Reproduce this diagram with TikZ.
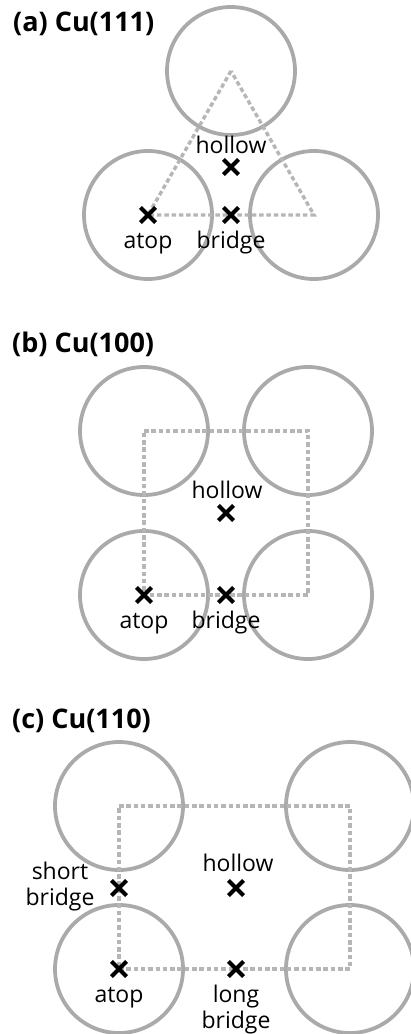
\documentclass[tikz,border=0pt]{standalone}
\usepackage{fontspec}
\setmainfont{Open Sans}
\usetikzlibrary{shapes.misc}
\definecolor{atomgray}{RGB}{170,170,170}
\definecolor{linegray}{RGB}{182,182,182}
\tikzset{
  atom/.style={draw=atomgray, line width=3.8pt},
  lattice/.style={draw=linegray, line width=3.4pt, dash pattern=on 4.5pt off 2.8pt},
  site/.style={cross out, draw=black, line width=4.2pt, minimum size=11pt, inner sep=0pt},
  lbl/.style={font=\fontsize{23}{26}\selectfont, inner sep=0pt, anchor=base, align=center},
  panel/.style={font=\fontsize{27}{30}\selectfont\bfseries, inner sep=0pt, anchor=base west},
}
\begin{document}
\begin{tikzpicture}[x=1pt,y=-1pt]
    \useasboundingbox (0,0) rectangle (411,1034);

    % (a) Cu(111)
    \node[panel] (ta) at (13,31) {(a) Cu(111)};
    \coordinate (a1) at (231,71);
    \coordinate (a2) at (148,215);
    \coordinate (a3) at (314,215);
    \draw[atom] (a1) circle (64pt);
    \draw[atom] (a2) circle (64pt);
    \draw[atom] (a3) circle (64pt);
    \draw[lattice] (a1) -- (a2) -- (a3) -- cycle;
    \node[site] (aTop) at (a2) {};
    \node[site] (aBri) at (231,215) {};
    \node[site] (aHol) at (231,167) {};
    \node[lbl] (aHolT) at (231,153) {hollow};
    \node[lbl] (aTopT) at (148,248) {atop};
    \node[lbl] (aBriT) at (231,248) {bridge};

    % (b) Cu(100)
    \node[panel] (tb) at (12,352) {(b) Cu(100)};
    \coordinate (b1) at (144,431);
    \coordinate (b2) at (308,431);
    \coordinate (b3) at (308,595);
    \coordinate (b4) at (144,595);
    \draw[atom] (b1) circle (64pt);
    \draw[atom] (b2) circle (64pt);
    \draw[atom] (b3) circle (64pt);
    \draw[atom] (b4) circle (64pt);
    \draw[lattice] (b1) -- (b2) -- (b3) -- (b4) -- cycle;
    \node[site] (bTop) at (b4) {};
    \node[site] (bBri) at (226,595) {};
    \node[site] (bHol) at (226,513) {};
    \node[lbl] (bHolT) at (227,498) {hollow};
    \node[lbl] (bTopT) at (144,628) {atop};
    \node[lbl] (bBriT) at (226,628) {bridge};

    % (c) Cu(110)
    \node[panel] (tc) at (12,728) {(c) Cu(110)};
    \coordinate (c1) at (119,806);
    \coordinate (c2) at (350,806);
    \coordinate (c3) at (350,969);
    \coordinate (c4) at (119,969);
    \draw[atom] (c1) circle (64pt);
    \draw[atom] (c2) circle (64pt);
    \draw[atom] (c3) circle (64pt);
    \draw[atom] (c4) circle (64pt);
    \draw[lattice] (c1) -- (c2) -- (c3) -- (c4) -- cycle;
    \node[site] (cTop) at (c4) {};
    \node[site] (cSho) at (119,888) {};
    \node[site] (cLon) at (236,969) {};
    \node[site] (cHol) at (236,888) {};
    \node[lbl] (cHolT) at (238,871) {hollow};
    \node[lbl] (cShoT) at (60,905) {short\\bridge};
    \node[lbl] (cTopT) at (119,1002) {atop};
    \node[lbl] (cLonT) at (236,1028) {long\\bridge};
\end{tikzpicture}
\end{document}
